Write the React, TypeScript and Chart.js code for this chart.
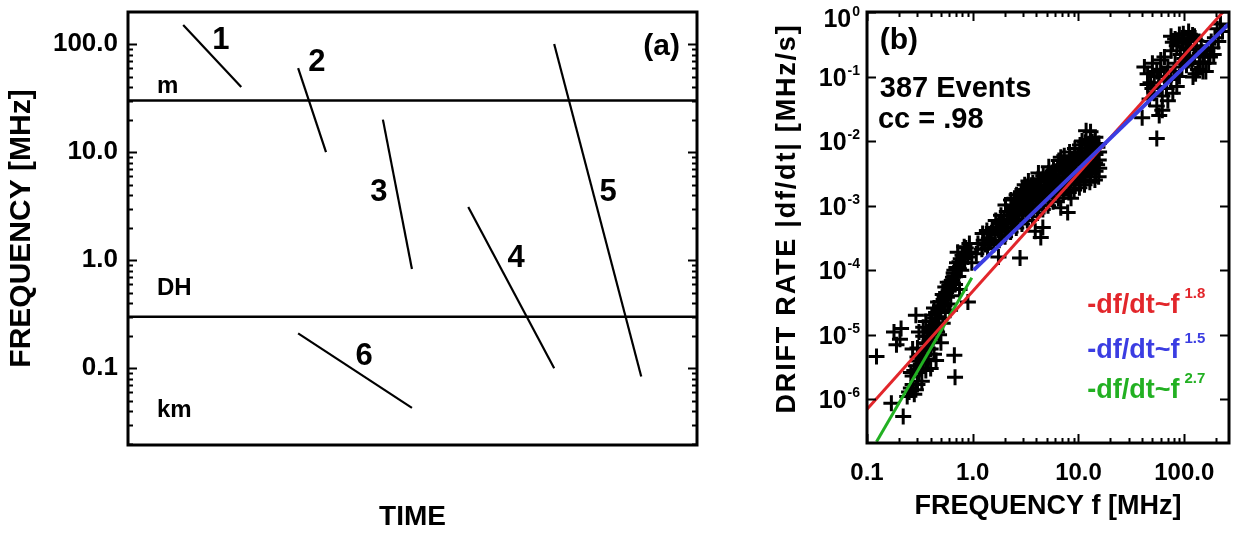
import React, { useEffect, useRef } from 'react';
import { Chart, registerables } from 'chart.js';

Chart.register(...registerables);

const FONT = "'Liberation Sans', Arial, Helvetica, sans-serif";

// ---------------- Panel (a): schematic drift of type III bursts ----------------
const TIME_MIN = 0;
const TIME_MAX = 100;
const FREQ_MIN_A = 0.0195;
const FREQ_MAX_A = 198;
const FREQ_TICKS_A = [0.1, 1, 10, 100];
const FREQ_TICK_LABELS_A = ['0.1', '1.0', '10.0', '100.0'];
const BAND_EDGES = [30, 0.3];
const BAND_NAMES = ['m', 'DH', 'km'];
const BAND_NAME_TIME = [5.1, 5.1, 5.1];
const BAND_NAME_FREQ = [35, 0.474, 0.0352];
const BURST_IDS = ['1', '2', '3', '4', '5', '6'];
const BURST_T_START = [9.7, 29.9, 44.8, 59.8, 74.9, 29.9];
const BURST_T_END = [19.9, 34.8, 49.9, 74.9, 90.2, 49.9];
const BURST_F_START = [150, 60, 20, 3.1, 100, 0.21];
const BURST_F_END = [40, 10, 0.83, 0.1, 0.084, 0.043];
const BURST_ID_TIME = [16.3, 33.2, 44.1, 68.2, 84.4, 41.5];
const BURST_ID_FREQ = [107, 67, 4.2, 1.04, 4.2, 0.129];
const PANEL_A_TAG = '(a)';
const PANEL_A_TAG_POS = [97, 79];

// ---------------- Panel (b): drift rate vs frequency ----------------
const F_MIN_B = 0.1;
const F_MAX_B = 265;
const RATE_MIN_B = 2.1e-7;
const RATE_MAX_B = 1.0;
const F_TICKS_B = [0.1, 1, 10, 100];
const F_TICK_LABELS_B = ['0.1', '1.0', '10.0', '100.0'];
const RATE_TICK_EXP = [0, -1, -2, -3, -4, -5, -6];
const RATE_TITLE = 'DRIFT RATE |df/dt| [MHz/s]';

const KM_EVENTS: number[][] = [
  [0.123, 4.6e-6], [0.17, 8.7e-7], [0.22, 5.4e-7], [0.18, 1.1e-5], [0.19, 7.0e-6], [0.21, 1.25e-5], [0.205, 8.5e-6],
  [0.24, 1.1e-6], [0.26, 1.5e-6], [0.28, 1.2e-6], [0.30, 1.7e-6], [0.27, 2.3e-6], [0.31, 2.6e-6], [0.33, 1.9e-6],
  [0.29, 3.3e-6], [0.34, 3.6e-6], [0.32, 4.6e-6], [0.36, 2.8e-6], [0.35, 5.6e-6], [0.30, 6.2e-6], [0.38, 4.2e-6],
  [0.27, 6.0e-6], [0.29, 2.0e-5], [0.31, 1.1e-5], [0.37, 7.2e-6], [0.40, 6.0e-6], [0.42, 9.0e-6], [0.39, 1.2e-5],
  [0.44, 1.4e-5], [0.36, 1.6e-5], [0.41, 2.0e-5], [0.46, 1.1e-5], [0.48, 1.8e-5], [0.43, 2.6e-5], [0.50, 2.4e-5],
  [0.47, 3.2e-5], [0.52, 1.5e-5], [0.45, 4.0e-6], [0.50, 7.5e-6], [0.40, 3.0e-6], [0.34, 9.5e-6], [0.53, 3.5e-5],
  [0.56, 4.5e-5], [0.58, 3.0e-5], [0.60, 5.8e-5], [0.62, 4.0e-5], [0.64, 7.0e-5], [0.66, 9.0e-5], [0.68, 6.0e-5],
  [0.70, 1.1e-4], [0.73, 8.0e-5], [0.75, 1.35e-4], [0.78, 1.0e-4], [0.80, 1.7e-4], [0.84, 1.3e-4], [0.86, 2.2e-4],
  [0.90, 1.6e-4], [0.93, 2.6e-4], [0.96, 1.9e-4], [0.98, 1.3e-4], [0.72, 1.9e-4], [0.55, 2.2e-5], [0.61, 2.4e-5],
  [0.67, 4.8e-6], [0.68, 2.2e-6], [0.90, 3.2e-5], [0.75, 5.0e-5],
  [0.25, 1.3e-6], [0.27, 1.7e-6], [0.29, 1.4e-6], [0.26, 2.6e-6], [0.28, 2.8e-6], [0.32, 3.0e-6], [0.31, 3.9e-6],
  [0.33, 5.0e-6], [0.36, 4.0e-6], [0.35, 7.5e-6], [0.38, 6.0e-6], [0.37, 9.5e-6], [0.39, 8.0e-6], [0.41, 1.05e-5],
  [0.42, 1.4e-5], [0.40, 1.6e-5], [0.44, 1.8e-5], [0.45, 2.2e-5], [0.46, 1.5e-5], [0.49, 2.8e-5], [0.51, 3.2e-5],
  [0.54, 2.8e-5], [0.52, 4.2e-5], [0.57, 3.8e-5], [0.59, 4.8e-5], [0.61, 6.5e-5], [0.63, 5.2e-5], [0.65, 7.8e-5],
  [0.67, 1.0e-4], [0.69, 8.0e-5], [0.71, 1.3e-4], [0.74, 1.05e-4], [0.77, 1.5e-4], [0.82, 1.5e-4], [0.88, 1.9e-4],
  [0.83, 2.3e-4], [0.43, 5.0e-6], [0.48, 1.0e-5], [0.30, 4.5e-6], [0.34, 1.3e-5], [0.58, 6.5e-5], [0.55, 5.5e-5],
];

const DH_EVENTS: number[][] = [
  [1.08, 1.8e-4], [1.12, 2.6e-4], [1.22, 2.1e-4], [1.27, 2.9e-4], [1.24, 3.7e-4],
  [1.38, 2.2e-4], [1.42, 3.1e-4], [1.36, 4.1e-4], [1.58, 2.5e-4], [1.62, 3.5e-4], [1.55, 4.6e-4], [1.65, 5.9e-4],
  [1.78, 2.9e-4], [1.83, 4.0e-4], [1.76, 5.3e-4], [1.85, 7.1e-4],
  [2.02, 3.3e-4], [2.08, 4.6e-4], [1.98, 6.1e-4], [2.1, 8.1e-4], [2.04, 1.02e-3],
  [2.28, 3.9e-4], [2.33, 5.3e-4], [2.25, 7.1e-4], [2.36, 9.5e-4], [2.3, 1.22e-3],
  [2.58, 4.5e-4], [2.63, 6.1e-4], [2.55, 8.2e-4], [2.66, 1.1e-3], [2.6, 1.48e-3],
  [2.92, 5.2e-4], [2.98, 7.1e-4], [2.9, 9.5e-4], [3.02, 1.3e-3], [2.95, 1.78e-3],
  [3.28, 5.9e-4], [3.34, 8.0e-4], [3.25, 1.07e-3], [3.38, 1.46e-3], [3.3, 1.98e-3], [3.36, 2.4e-3],
  [3.66, 6.7e-4], [3.74, 9.0e-4], [3.62, 1.21e-3], [3.78, 1.66e-3], [3.7, 2.25e-3],
  [4.1, 7.7e-4], [4.2, 1.03e-3], [4.08, 1.4e-3], [4.24, 1.9e-3], [4.14, 2.6e-3], [4.18, 3.2e-3],
  [4.6, 8.7e-4], [4.7, 1.16e-3], [4.56, 1.56e-3], [4.74, 2.1e-3], [4.64, 2.9e-3],
  [5.15, 1.0e-3], [5.26, 1.35e-3], [5.1, 1.8e-3], [5.3, 2.42e-3], [5.2, 3.2e-3], [5.24, 4.0e-3],
  [5.75, 1.15e-3], [5.86, 1.52e-3], [5.7, 2.02e-3], [5.9, 2.7e-3], [5.8, 3.6e-3],
  [6.45, 1.3e-3], [6.56, 1.72e-3], [6.4, 2.3e-3], [6.6, 3.1e-3], [6.5, 4.1e-3], [6.52, 5.0e-3],
  [7.2, 1.45e-3], [7.38, 1.92e-3], [7.25, 2.6e-3], [7.4, 3.5e-3], [7.3, 4.6e-3], [7.34, 5.9e-3],
  [8.1, 1.6e-3], [8.3, 2.12e-3], [8.15, 2.9e-3], [8.28, 3.9e-3], [8.2, 5.2e-3], [8.24, 6.8e-3],
  [9.1, 1.75e-3], [9.3, 2.32e-3], [9.15, 3.2e-3], [9.28, 4.3e-3], [9.2, 5.8e-3], [9.25, 7.7e-3],
  [10.2, 1.9e-3], [10.4, 2.52e-3], [10.25, 3.5e-3], [10.38, 4.7e-3], [10.3, 6.4e-3], [10.34, 8.7e-3],
  [11.4, 2.1e-3], [11.6, 2.82e-3], [11.45, 3.8e-3], [11.58, 5.2e-3], [11.5, 7.1e-3], [11.54, 9.6e-3],
  [12.8, 2.3e-3], [13.0, 3.12e-3], [12.85, 4.2e-3], [12.98, 5.7e-3], [12.9, 7.8e-3], [12.94, 1.06e-2],
  [14.3, 2.5e-3], [14.5, 3.42e-3], [14.35, 4.6e-3], [14.48, 6.2e-3], [14.4, 8.5e-3], [14.44, 1.15e-2],
  [15.5, 2.8e-3], [15.7, 3.8e-3], [15.55, 5.1e-3], [15.66, 6.8e-3], [15.6, 9.2e-3],
  [1.75, 1.6e-4], [2.8, 1.55e-4], [3.9, 4.0e-4], [4.4, 3.2e-4], [4.6, 4.6e-4], [6.8, 9.3e-4],
  [7.9, 7.8e-4], [8.5, 1.3e-3], [3.1, 2.1e-3], [6.8, 5.6e-3], [13, 1.4e-2], [11.8, 1.45e-2],
  [1.3, 2.5e-4], [1.47, 2.7e-4], [1.5, 3.8e-4], [1.7, 4.5e-4], [1.9, 3.5e-4], [1.92, 5.6e-4], [2.15, 4.0e-4],
  [2.18, 7.0e-4], [2.45, 5.8e-4], [2.42, 8.8e-4], [2.48, 1.3e-3], [2.75, 7.5e-4], [2.78, 1.2e-3], [3.1, 9.0e-4],
  [3.15, 1.6e-3], [3.5, 1.0e-3], [3.55, 1.9e-3], [3.95, 1.2e-3], [3.92, 2.0e-3], [4.4, 1.3e-3], [4.38, 2.4e-3],
  [4.9, 1.5e-3], [4.95, 2.7e-3], [5.5, 1.7e-3], [5.5, 3.0e-3], [6.1, 2.0e-3], [6.15, 3.4e-3], [6.9, 2.2e-3],
  [6.95, 3.9e-3], [7.8, 2.5e-3], [7.75, 4.4e-3], [8.7, 2.7e-3], [8.75, 4.9e-3], [9.7, 3.0e-3], [9.75, 5.4e-3],
  [10.9, 3.2e-3], [10.85, 6.0e-3], [12.2, 3.5e-3], [12.1, 6.6e-3], [13.6, 3.9e-3], [13.7, 7.2e-3], [13.5, 9.8e-3],
  [15.0, 4.3e-3], [15.1, 8.0e-3], [12.0, 8.9e-3], [10.8, 1.0e-2],
];

const M_EVENTS: number[][] = [
  [75, 0.42], [82, 0.38], [90, 0.45], [100, 0.40], [110, 0.50], [120, 0.44], [95, 0.33], [130, 0.36], [85, 0.30], [105, 0.28],
  [42, 0.14], [45, 0.11], [50, 0.16], [48, 0.08], [55, 0.12], [60, 0.18], [58, 0.07], [65, 0.10], [70, 0.14], [52, 0.055],
  [62, 0.05], [75, 0.09], [80, 0.12], [68, 0.065], [47, 0.045], [55, 0.035], [62, 0.03], [70, 0.042], [78, 0.055],
  [85, 0.07], [58, 0.025], [90, 0.10], [112, 0.26], [125, 0.20], [140, 0.23], [150, 0.17], [165, 0.25], [175, 0.20],
  [121, 0.098], [135, 0.13], [160, 0.12], [185, 0.28], [105, 0.15], [145, 0.30], [118, 0.16], [205, 0.55], [220, 0.65],
  [230, 0.50], [195, 0.40], [40, 0.023], [55, 0.011],
  [78, 0.34], [88, 0.36], [98, 0.46], [115, 0.38], [125, 0.42], [108, 0.35], [92, 0.22], [100, 0.19], [110, 0.21],
  [75, 0.25], [65, 0.2], [60, 0.13], [52, 0.1], [45, 0.075], [50, 0.065], [58, 0.1], [66, 0.085], [82, 0.16],
  [95, 0.14], [130, 0.27], [155, 0.22], [170, 0.16], [190, 0.22], [210, 0.35], [180, 0.35], [140, 0.16], [128, 0.11],
  [150, 0.12],
];

const FIT_TEXT = ['-df/dt~f', '-df/dt~f', '-df/dt~f'];
const FIT_EXPONENT = ['1.8', '1.5', '2.7'];
const FIT_COLORS = ['#e2262b', '#3b3de2', '#22b022'];
const FIT_WIDTHS = [3, 4, 3];
const FIT_F = [[0.1, 245], [1.02, 263], [0.123, 0.98]];
const FIT_RATE = [[7.0e-7, 1.1], [1.0e-4, 0.65], [2.2e-7, 7.6e-5]];
const FIT_LABEL_F = 12.1;
const FIT_LABEL_RATE = [2.17e-5, 4.35e-6, 1.05e-6];
const PANEL_B_TEXT = ['(b)', '387 Events', 'cc = .98'];
const PANEL_B_TEXT_F = [0.132, 0.132, 0.127];
const PANEL_B_TEXT_RATE = [0.267, 0.0482, 0.01595];

function logTicks(min: number, max: number) {
  const out: { v: number; major: boolean }[] = [];
  for (let e = Math.floor(Math.log10(min)); e <= Math.ceil(Math.log10(max)); e++) {
    for (let m = 1; m <= 9; m++) {
      const v = m * Math.pow(10, e);
      if (v >= min * 0.9999 && v <= max * 1.0001) out.push({ v, major: m === 1 });
    }
  }
  return out;
}

const panelAPlugin = {
  id: 'panelA',
  afterDraw(chart: any) {
    const { ctx, chartArea: ca, scales } = chart;
    const x = scales.x;
    const y = scales.y;
    ctx.save();
    ctx.strokeStyle = '#000';
    ctx.lineWidth = 2;
    ctx.beginPath();
    for (const t of logTicks(FREQ_MIN_A, FREQ_MAX_A)) {
      const py = Math.round(y.getPixelForValue(t.v)) + 0.5;
      const len = t.major ? 9 : 5;
      ctx.moveTo(ca.left, py);
      ctx.lineTo(ca.left + len, py);
      ctx.moveTo(ca.right, py);
      ctx.lineTo(ca.right - len, py);
    }
    ctx.stroke();
    ctx.lineWidth = 3;
    ctx.strokeRect(ca.left, ca.top, ca.right - ca.left, ca.bottom - ca.top);

    ctx.fillStyle = '#000';
    ctx.font = `bold 31px ${FONT}`;
    ctx.textAlign = 'center';
    ctx.textBaseline = 'middle';
    BURST_IDS.forEach((id, i) => {
      ctx.fillText(id, x.getPixelForValue(BURST_ID_TIME[i]), y.getPixelForValue(BURST_ID_FREQ[i]));
    });
    ctx.font = `bold 24px ${FONT}`;
    ctx.textAlign = 'left';
    ctx.textBaseline = 'alphabetic';
    BAND_NAMES.forEach((n, i) => {
      ctx.fillText(n, x.getPixelForValue(BAND_NAME_TIME[i]), y.getPixelForValue(BAND_NAME_FREQ[i]));
    });
    ctx.font = `bold 30px ${FONT}`;
    ctx.textAlign = 'right';
    ctx.fillText(PANEL_A_TAG, x.getPixelForValue(PANEL_A_TAG_POS[0]), y.getPixelForValue(PANEL_A_TAG_POS[1]));
    ctx.restore();
  },
};

const panelBPlugin = {
  id: 'panelB',
  afterDraw(chart: any) {
    const { ctx, chartArea: ca, scales } = chart;
    const x = scales.x;
    const y = scales.y;
    ctx.save();
    ctx.strokeStyle = '#000';
    ctx.lineWidth = 2;
    ctx.beginPath();
    for (const t of logTicks(F_MIN_B, F_MAX_B)) {
      const px = Math.round(x.getPixelForValue(t.v)) + 0.5;
      const len = t.major ? 9 : 5;
      ctx.moveTo(px, ca.bottom);
      ctx.lineTo(px, ca.bottom - len);
      ctx.moveTo(px, ca.top);
      ctx.lineTo(px, ca.top + len);
    }
    for (const e of RATE_TICK_EXP) {
      const py = Math.round(y.getPixelForValue(Math.pow(10, e))) + 0.5;
      ctx.moveTo(ca.left, py);
      ctx.lineTo(ca.left + 9, py);
      ctx.moveTo(ca.right, py);
      ctx.lineTo(ca.right - 9, py);
    }
    ctx.stroke();
    ctx.lineWidth = 3;
    ctx.strokeRect(ca.left, ca.top, ca.right - ca.left, ca.bottom - ca.top);

    // y tick labels 10^e
    ctx.fillStyle = '#000';
    ctx.textAlign = 'right';
    ctx.textBaseline = 'alphabetic';
    const labelRight = ca.left - 7;
    for (const e of RATE_TICK_EXP) {
      const py = Math.max(y.getPixelForValue(Math.pow(10, e)), ca.top + 6);
      const sup = String(e);
      ctx.font = `bold 14px ${FONT}`;
      const sw = ctx.measureText(sup).width;
      ctx.fillText(sup, labelRight, py - 2);
      ctx.font = `bold 25px ${FONT}`;
      ctx.fillText('10', labelRight - sw - 1, py + 9);
    }

    // y title
    ctx.save();
    ctx.translate(ca.left - 79, (ca.top + ca.bottom) / 2 - 9);
    ctx.rotate(-Math.PI / 2);
    ctx.font = `bold 27px ${FONT}`;
    (ctx as any).letterSpacing = '1.8px';
    ctx.textAlign = 'center';
    ctx.textBaseline = 'middle';
    ctx.fillText(RATE_TITLE, 0, 0);
    ctx.restore();

    // annotations
    ctx.textAlign = 'left';
    ctx.textBaseline = 'alphabetic';
    PANEL_B_TEXT.forEach((s, i) => {
      ctx.font = i === 0 ? `bold 30px ${FONT}` : `bold 29px ${FONT}`;
      ctx.fillText(s, x.getPixelForValue(PANEL_B_TEXT_F[i]), y.getPixelForValue(PANEL_B_TEXT_RATE[i]));
    });

    // fit legend
    FIT_TEXT.forEach((s, i) => {
      const px = x.getPixelForValue(FIT_LABEL_F);
      const py = y.getPixelForValue(FIT_LABEL_RATE[i]);
      ctx.fillStyle = FIT_COLORS[i];
      ctx.font = `bold 27px ${FONT}`;
      ctx.fillText(s, px, py);
      const w = ctx.measureText(s).width;
      ctx.font = `bold 15px ${FONT}`;
      ctx.fillText(FIT_EXPONENT[i], px + w + 5, py - 15);
    });
    ctx.restore();
  },
};

function zeroPad(scale: any) {
  scale.paddingTop = 0;
  scale.paddingBottom = 0;
  scale.paddingLeft = 0;
  scale.paddingRight = 0;
}

function makeChartA(canvas: HTMLCanvasElement) {
  const datasets: any[] = [];
  BURST_IDS.forEach((id, i) => {
    datasets.push({
      label: 'burst ' + id,
      data: [
        { x: BURST_T_START[i], y: BURST_F_START[i] },
        { x: BURST_T_END[i], y: BURST_F_END[i] },
      ],
      showLine: true,
      borderColor: '#000',
      borderWidth: 2.2,
      pointRadius: 0,
    });
  });
  BAND_EDGES.forEach((f) => {
    datasets.push({
      label: 'band ' + f,
      data: [
        { x: TIME_MIN, y: f },
        { x: TIME_MAX, y: f },
      ],
      showLine: true,
      borderColor: '#000',
      borderWidth: 2.5,
      pointRadius: 0,
    });
  });
  return new Chart(canvas, {
    type: 'scatter',
    data: { datasets },
    options: {
      animation: false,
      responsive: true,
      maintainAspectRatio: false,
      events: [],
      layout: { padding: { left: 0, top: 12, right: 43, bottom: 0 } },
      plugins: { legend: { display: false }, tooltip: { enabled: false } },
      scales: {
        x: {
          type: 'linear',
          min: TIME_MIN,
          max: TIME_MAX,
          position: 'bottom',
          grid: { display: false, drawTicks: false },
          border: { display: false },
          ticks: { display: false },
          title: {
            display: true,
            text: 'TIME',
            color: '#000',
            font: { family: FONT, size: 28, weight: 'bold' },
            padding: { top: 0, bottom: 2 },
          },
          afterFit: (s: any) => {
            s.height = 91;
            zeroPad(s);
          },
        },
        y: {
          type: 'logarithmic',
          min: FREQ_MIN_A,
          max: FREQ_MAX_A,
          position: 'left',
          grid: { display: false, drawTicks: false },
          border: { display: false },
          afterBuildTicks: (s: any) => {
            s.ticks = FREQ_TICKS_A.map((v) => ({ value: v, major: true }));
          },
          ticks: {
            autoSkip: false,
            color: '#000',
            padding: 10,
            font: { family: FONT, size: 26, weight: 'bold' },
            callback: (_v: any, i: number) => FREQ_TICK_LABELS_A[i],
          },
          title: {
            display: true,
            text: 'FREQUENCY [MHz]',
            color: '#000',
            font: { family: FONT, size: 30, weight: 'bold' },
            padding: { top: 4, bottom: 0 },
          },
          afterFit: (s: any) => {
            s.width = 128;
            zeroPad(s);
          },
        },
      },
    } as any,
    plugins: [panelAPlugin],
  });
}

function makeChartB(canvas: HTMLCanvasElement) {
  const datasets: any[] = [];
  const order = [1, 0, 2];
  order.forEach((i) => {
    datasets.push({
      label: FIT_TEXT[i] + FIT_EXPONENT[i],
      data: [
        { x: FIT_F[i][0], y: FIT_RATE[i][0] },
        { x: FIT_F[i][1], y: FIT_RATE[i][1] },
      ],
      showLine: true,
      borderColor: FIT_COLORS[i],
      borderWidth: FIT_WIDTHS[i],
      pointRadius: 0,
    });
  });
  const events = [...KM_EVENTS, ...DH_EVENTS, ...M_EVENTS].map((p) => ({ x: p[0], y: p[1] }));
  datasets.push({
    label: 'events',
    data: events,
    showLine: false,
    pointStyle: 'cross',
    pointRadius: 8,
    pointBorderWidth: 3,
    borderColor: '#000',
    pointBorderColor: '#000',
    backgroundColor: '#000',
  });
  return new Chart(canvas, {
    type: 'scatter',
    data: { datasets },
    options: {
      animation: false,
      responsive: true,
      maintainAspectRatio: false,
      events: [],
      layout: { padding: { left: 0, top: 12, right: 7, bottom: 0 } },
      plugins: { legend: { display: false }, tooltip: { enabled: false } },
      scales: {
        x: {
          type: 'logarithmic',
          min: F_MIN_B,
          max: F_MAX_B,
          position: 'bottom',
          grid: { display: false, drawTicks: false },
          border: { display: false },
          afterBuildTicks: (s: any) => {
            s.ticks = F_TICKS_B.map((v) => ({ value: v, major: true }));
          },
          ticks: {
            autoSkip: false,
            maxRotation: 0,
            color: '#000',
            padding: 16,
            font: { family: FONT, size: 24, weight: 'bold' },
            callback: (_v: any, i: number) => F_TICK_LABELS_B[i],
          },
          title: {
            display: true,
            text: 'FREQUENCY f [MHz]',
            color: '#000',
            font: { family: FONT, size: 27, weight: 'bold' },
            padding: { top: 0, bottom: 13 },
          },
          afterFit: (s: any) => {
            s.height = 93;
            zeroPad(s);
          },
        },
        y: {
          type: 'logarithmic',
          min: RATE_MIN_B,
          max: RATE_MAX_B,
          position: 'left',
          grid: { display: false, drawTicks: false },
          border: { display: false },
          ticks: { display: false },
          title: { display: false },
          afterFit: (s: any) => {
            s.width = 127;
            zeroPad(s);
          },
        },
      },
    } as any,
    plugins: [panelBPlugin],
  });
}

export default function App() {
  const refA = useRef<HTMLCanvasElement>(null);
  const refB = useRef<HTMLCanvasElement>(null);
  useEffect(() => {
    const a = makeChartA(refA.current!);
    const b = makeChartB(refB.current!);
    return () => {
      a.destroy();
      b.destroy();
    };
  }, []);
  return (
    <div style={{ position: 'fixed', left: 0, top: 0, width: 1240, height: 536, background: '#fff' }}>
      <div style={{ position: 'absolute', left: 0, top: 0, width: 740, height: 536 }}>
        <canvas ref={refA} />
      </div>
      <div style={{ position: 'absolute', left: 740, top: 0, width: 500, height: 536 }}>
        <canvas ref={refB} />
      </div>
    </div>
  );
}
